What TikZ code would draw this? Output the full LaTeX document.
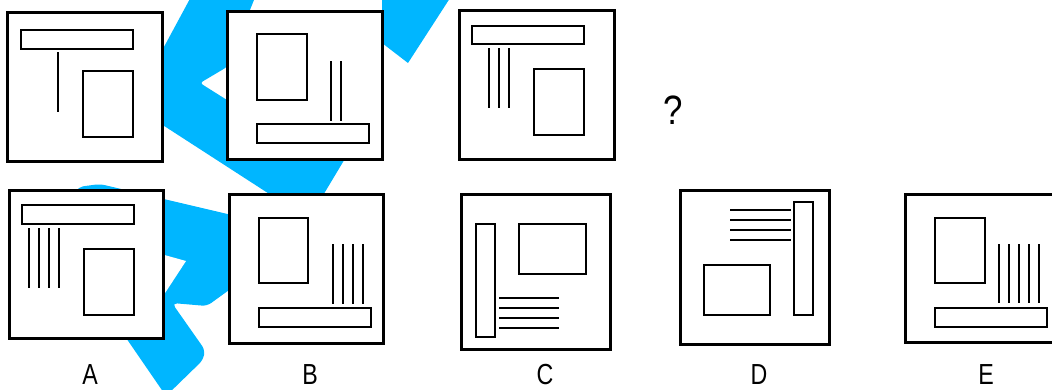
\documentclass[tikz,border=0pt]{standalone}
\usepackage{fontspec}
\setmainfont{Liberation Sans}
\definecolor{logoblue}{RGB}{0,182,255}
\begin{document}
\begin{tikzpicture}[x=1pt, y=-1pt,
    outerbox/.style={draw, fill=white, line width=3pt},
    innerbox/.style={draw, line width=2.9pt},
    stripe/.style={line width=2.1pt},
    letter/.style={inner sep=0pt, font=\fontsize{29}{31}\selectfont, xscale=0.8}]
    \useasboundingbox (0,0) rectangle (1052,389);
    \clip (0,0) rectangle (1052,389);

    % watermark behind the panels
    \fill[logoblue, rounded corners=3pt] (158,122) -- (158,58) -- (192,-5) -- (256,-5)
        -- (227,67) -- (200,83) -- (227,100) -- (300,150) -- (346,157) -- (322,197)
        -- (274,197) -- cycle;
    \fill[logoblue] (382,-5) -- (452,-5) -- (408,63) -- (382,43) -- cycle;
    \fill[logoblue, rounded corners=5pt] (60,230) -- (78,187) -- (100,184) -- (236,216)
        -- (236,285) -- (207,306) -- (172,303) -- (205,350) -- (203,360) -- (166,396)
        -- (100,300) -- cycle;
    \fill[white] (150,251) -- (186,261) -- (150,316) -- cycle;

    % top row
    \draw[outerbox] (7,12) rectangle (162,161);
    \draw[innerbox] (21,30) rectangle (133,49);
    \draw[innerbox] (83,71) rectangle (133,137);
    \draw[stripe] (58,52) -- (58,112);

    \draw[outerbox] (227,11) rectangle (382,159);
    \draw[innerbox] (257,34) rectangle (307,100);
    \draw[innerbox] (257,124) rectangle (369,143);
    \draw[stripe] (331,61) -- (331,121) (341,61) -- (341,121);

    \draw[outerbox] (459,10) rectangle (614,159);
    \draw[innerbox] (472,26) rectangle (584,44);
    \draw[innerbox] (534,69) rectangle (584,135);
    \draw[stripe] (489,48) -- (489,108) (499,48) -- (499,108) (509,48) -- (509,108);

    \node[inner sep=0pt, font=\fontsize{41}{43}\selectfont, xscale=0.85] (quest) at (673,110) {?};

    % answers
    \draw[outerbox] (9,190) rectangle (163,338);
    \draw[innerbox] (22,205) rectangle (134,224);
    \draw[innerbox] (84,249) rectangle (134,315);
    \draw[stripe] (29,228) -- (29,288) (39,228) -- (39,288)
        (49,228) -- (49,288) (59,228) -- (59,288);

    \draw[outerbox] (229,194) rectangle (383,343);
    \draw[innerbox] (259,218) rectangle (308,283);
    \draw[innerbox] (259,308) rectangle (371,327);
    \draw[stripe] (333,244) -- (333,304) (343,244) -- (343,304)
        (353,244) -- (353,304) (363,244) -- (363,304);

    \draw[outerbox] (461,194) rectangle (610,349);
    \draw[innerbox] (476,224) rectangle (495,337);
    \draw[innerbox] (519,224) rectangle (586,274);
    \draw[stripe] (499,298) -- (559,298) (499,308) -- (559,308)
        (499,318) -- (559,318) (499,328) -- (559,328);

    \draw[outerbox] (680,190) rectangle (829,344);
    \draw[innerbox] (794,202) rectangle (813,315);
    \draw[innerbox] (704,265) rectangle (770,315);
    \draw[stripe] (730,210) -- (791,210) (730,220) -- (791,220)
        (730,230) -- (791,230) (730,240) -- (791,240);

    \draw[outerbox] (905,194) rectangle (1058,342);
    \draw[innerbox] (935,218) rectangle (985,283);
    \draw[innerbox] (935,308) rectangle (1047,327);
    \draw[stripe] (999,244) -- (999,303) (1009,244) -- (1009,303) (1019,244) -- (1019,303)
        (1029,244) -- (1029,303) (1039,244) -- (1039,303);

    \node[letter] (labA) at (90,375) {A};
    \node[letter] (labB) at (310,375) {B};
    \node[letter] (labC) at (545,375) {C};
    \node[letter] (labD) at (759,375) {D};
    \node[letter] (labE) at (986,375) {E};
\end{tikzpicture}
\end{document}
